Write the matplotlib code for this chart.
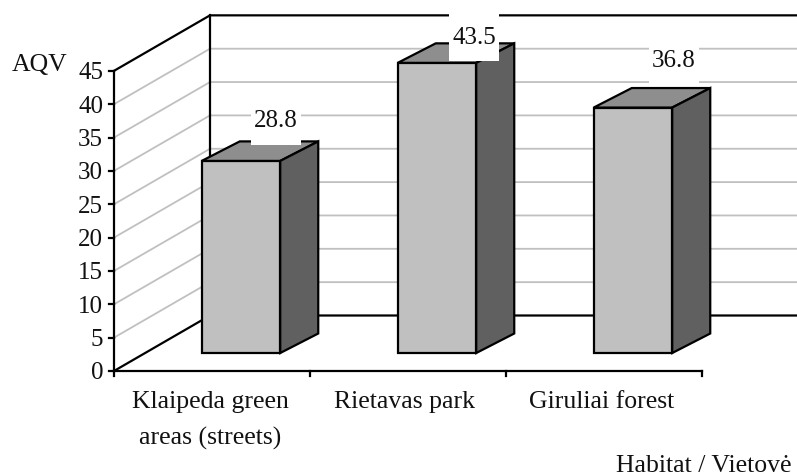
import matplotlib
matplotlib.use('Agg')
import numpy as np
import matplotlib.pyplot as plt
from matplotlib.patches import Polygon, Rectangle

plt.rcParams['font.family'] = ['Liberation Serif', 'DejaVu Serif']

habitats = ['Klaipeda green\nareas (streets)', 'Rietavas park', 'Giruliai forest']
aqv = [28.8, 43.5, 36.8]
y_ticks = [0, 5, 10, 15, 20, 25, 30, 35, 40, 45]

W, H = 797, 477
X0, Y0 = 114, 372            # origin of the front plane, px
CAT_W = 196                  # px per category
UNIT = 6.67                  # px per AQV unit
DEPTH_X, DEPTH_Y = 96, 55.5  # shift of the back wall, px
RIGHT_END = 797

# bar geometry, px
BAR_W = 78.5
BAR_SHIFT_X = 29
BAR_SHIFT_Y = 18
SIDE_X, SIDE_Y = 38, 19.5

# data label offsets from the bar top, px (dx from category centre, dy upward)
label_dx = [63.5, 66, 70]
label_dy = [40.5, 26, 48]
BOX_W, BOX_H = 50, 49

BLACK_LW = 1.6
FS = 18.5
FS_NUM = 18

fig = plt.figure(figsize=(W / 100, H / 100), dpi=100)
ax = fig.add_axes([0, 0, 1, 1])
ax.set_xlim(-X0 / CAT_W, (W - X0) / CAT_W)
ax.set_ylim((Y0 - H) / UNIT, Y0 / UNIT)
ax.axis('off')

dx_back = DEPTH_X / CAT_W
dy_back = DEPTH_Y / UNIT
x_right = (RIGHT_END - X0) / CAT_W
n = len(habitats)

# gridlines: along the side wall, then along the back wall
for v in y_ticks[1:-1]:
    ax.plot([0, dx_back, x_right], [v, v + dy_back, v + dy_back],
            color='#c0c0c0', lw=1.3, zorder=1, solid_joinstyle='miter')

# walls
top = y_ticks[-1]
ax.plot([0, 0], [0, top], color='k', lw=BLACK_LW, zorder=2)
ax.plot([0, dx_back, x_right], [top, top + dy_back, top + dy_back], color='k', lw=BLACK_LW, zorder=2)
ax.plot([dx_back, dx_back], [dy_back, top + dy_back], color='k', lw=BLACK_LW, zorder=2)
ax.plot([0, dx_back, x_right], [0, dy_back, dy_back], color='k', lw=BLACK_LW, zorder=2)
ax.plot([0, n], [0, 0], color='k', lw=BLACK_LW, zorder=2)

# ticks
for v in y_ticks:
    ax.plot([-5 / CAT_W, 0], [v, v], color='k', lw=BLACK_LW, zorder=2)
    ax.text(-11 / CAT_W, v - 0.2, str(v), ha='right', va='center', fontsize=FS_NUM, color='#111111')
for i in range(n + 1):
    ax.plot([i, i], [0, -5 / UNIT], color='k', lw=BLACK_LW, zorder=2)

# bars
for i, v in enumerate(aqv):
    left = i + 0.5 + (BAR_SHIFT_X - BAR_W / 2) / CAT_W
    right = left + BAR_W / CAT_W
    base = BAR_SHIFT_Y / UNIT
    tip = base + v
    sx = SIDE_X / CAT_W
    sy = SIDE_Y / UNIT
    faces = [
        ([(left, base), (right, base), (right, tip), (left, tip)], '#c0c0c0'),
        ([(left, tip), (right, tip), (right + sx, tip + sy), (left + sx, tip + sy)], '#8e8e8e'),
        ([(right, base), (right + sx, base + sy), (right + sx, tip + sy), (right, tip)], '#606060'),
    ]
    for pts, col in faces:
        ax.add_patch(Polygon(pts, closed=True, facecolor=col, edgecolor='k', lw=BLACK_LW,
                             joinstyle='miter', zorder=3))

# value labels on white boxes
for i, v in enumerate(aqv):
    cx = i + 0.5 + label_dx[i] / CAT_W
    cy = BAR_SHIFT_Y / UNIT + v + label_dy[i] / UNIT
    ax.add_patch(Rectangle((cx - BOX_W / 2 / CAT_W, cy - BOX_H / 2 / UNIT), BOX_W / CAT_W, BOX_H / UNIT,
                           facecolor='white', edgecolor='none', zorder=4))
    ax.text(cx, cy, f'{v:.1f}', ha='center', va='center', fontsize=FS_NUM, color='#111111', zorder=5)

# category labels
label_shift = [-2, -3, -2]
for i, name in enumerate(habitats):
    ax.text(i + 0.5 + label_shift[i] / CAT_W, (Y0 - 391) / UNIT, name, ha='center', va='top',
            fontsize=FS, linespacing=1.8, color='#111111')

ax.text(-102 / CAT_W, (Y0 - 71) / UNIT, 'AQV', ha='left', va='baseline', fontsize=FS, color='#111111')
ax.text((792 - X0) / CAT_W, (Y0 - 472) / UNIT, 'Habitat / Vietovė', ha='right', va='baseline',
        fontsize=FS, color='#111111')

fig.savefig('out.png', dpi=100)
